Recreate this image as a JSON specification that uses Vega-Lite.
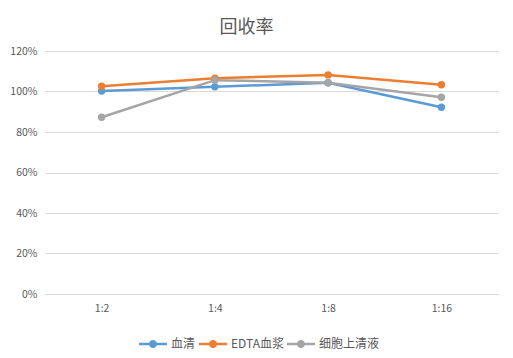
{
  "$schema": "https://vega.github.io/schema/vega-lite/v6.json",
  "width": 453,
  "height": 243,
  "autosize": "none",
  "padding": {"left": 45, "top": 51, "right": 15, "bottom": 64},
  "background": "white",
  "title": {"text": "回收率", "fontSize": 18, "font": "Noto Sans CJK SC", "fontWeight": "normal", "color": "#595959", "anchor": "middle", "dx": -25, "offset": 9},
  "data": {"values": [
    {"ratio": "1:2", "series": "血清", "value": 1.002},
    {"ratio": "1:4", "series": "血清", "value": 1.023},
    {"ratio": "1:8", "series": "血清", "value": 1.043},
    {"ratio": "1:16", "series": "血清", "value": 0.922},
    {"ratio": "1:2", "series": "EDTA血浆", "value": 1.026},
    {"ratio": "1:4", "series": "EDTA血浆", "value": 1.066},
    {"ratio": "1:8", "series": "EDTA血浆", "value": 1.082},
    {"ratio": "1:16", "series": "EDTA血浆", "value": 1.033},
    {"ratio": "1:2", "series": "细胞上清液", "value": 0.873},
    {"ratio": "1:4", "series": "细胞上清液", "value": 1.056},
    {"ratio": "1:8", "series": "细胞上清液", "value": 1.043},
    {"ratio": "1:16", "series": "细胞上清液", "value": 0.972}
  ]},
  "mark": {"type": "line", "strokeWidth": 2.5, "point": {"filled": true, "size": 55}},
  "encoding": {
    "x": {"field": "ratio", "type": "ordinal", "sort": ["1:2", "1:4", "1:8", "1:16"],
      "axis": {"title": null, "labelAngle": 0, "ticks": false, "domainColor": "#d9d9d9", "labelPadding": 9, "labelFont": "Noto Sans CJK SC", "labelFontSize": 10.5, "labelColor": "#595959"}},
    "y": {"field": "value", "type": "quantitative", "scale": {"domain": [0, 1.2]},
      "axis": {"title": null, "format": ".0%", "values": [0, 0.2, 0.4, 0.6, 0.8, 1.0, 1.2], "domain": false, "ticks": false, "gridColor": "#d9d9d9", "labelPadding": 8, "labelFont": "Noto Sans CJK SC", "labelFontSize": 10.5, "labelColor": "#595959"}},
    "color": {"field": "series", "type": "nominal", "sort": ["血清", "EDTA血浆", "细胞上清液"],
      "scale": {"domain": ["血清", "EDTA血浆", "细胞上清液"], "range": ["#5B9BD5", "#ED7D31", "#A5A5A5"]},
      "legend": {"title": null, "orient": "none", "legendX": 94, "legendY": 279, "direction": "horizontal",
        "symbolType": "M-1,-0.09L1,-0.09L1,0.09L-1,0.09Z M-0.29,0A0.29,0.29 0 1,1 0.29,0A0.29,0.29 0 1,1 -0.29,0Z",
        "symbolSize": 784, "symbolStrokeWidth": 0, "columnPadding": 3, "labelOffset": 4,
        "labelFont": "Noto Sans CJK SC", "labelFontSize": 12, "labelColor": "#595959",
        "encode": {"symbols": {"update": {"fill": {"field": "value", "scale": "color"}, "fillOpacity": {"value": 1}}}}}}
  },
  "config": {"view": {"stroke": null}}
}
